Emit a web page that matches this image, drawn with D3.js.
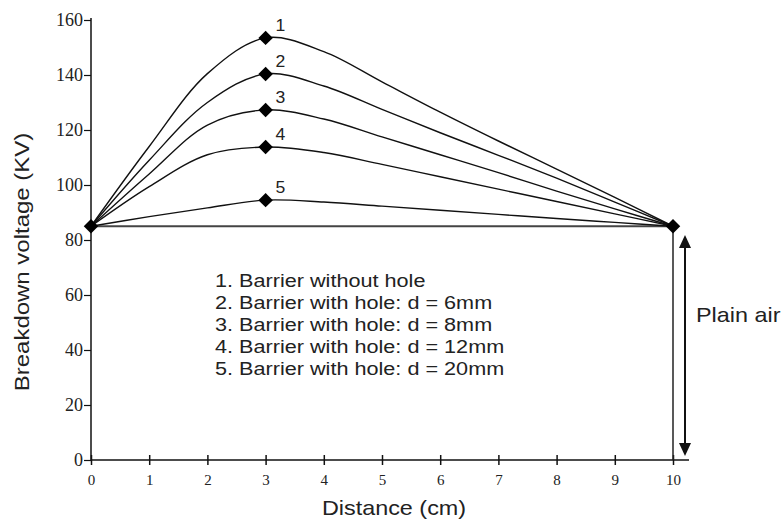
<!DOCTYPE html>
<html>
<head>
<meta charset="utf-8">
<script src="https://cdn.jsdelivr.net/npm/d3@7"></script>
<style>
  body { margin: 0; background: #fff; }
  svg { display: block; }
</style>
</head>
<body>
<div id="chart"></div>
<script>
const distances = [0, 1, 2, 3, 4, 5, 6, 7, 8, 9, 10];
// breakdown voltage (KV), one series per barrier type
const curve1 = [85, 114, 140.5, 153.5, 148.5, 137.5, 126.5, 116, 105.8, 95.5, 85];
const curve2 = [85, 109, 130, 140.4, 136, 127.5, 119, 110.8, 102.5, 93.8, 85];
const curve3 = [85, 104, 121.8, 127.3, 124, 117.5, 111, 104.5, 97.8, 91.3, 85];
const curve4 = [85, 99.4, 111, 113.8, 111.8, 107.5, 103, 98.5, 94, 89.5, 85];
const curve5 = [85, 88.5, 91.7, 94.5, 93.8, 92.3, 90.8, 89.3, 87.8, 86.4, 85];
const seriesLabels = ["1", "2", "3", "4", "5"];
const legendLines = [
    "1. Barrier without hole",
    "2. Barrier with hole: d = 6mm",
    "3. Barrier with hole: d = 8mm",
    "4. Barrier with hole: d = 12mm",
    "5. Barrier with hole: d = 20mm"
];
const xTicks = [0, 1, 2, 3, 4, 5, 6, 7, 8, 9, 10];
const yTicks = [0, 20, 40, 60, 80, 100, 120, 140, 160];
const plainAir = 85;
const peakX = 3;

const dimensions = { width: 782, height: 521 };
const series = [curve1, curve2, curve3, curve4, curve5];
const sans = "Liberation Sans, Arial, sans-serif";
const stretch = 1.17; // the source text is drawn wider than Arial

const svg = d3.select("#chart")
    .append("svg")
    .attr("width", dimensions.width)
    .attr("height", dimensions.height);

const x = d3.scaleLinear().domain([0, 10]).range([91, 673]);
const y = d3.scaleLinear().domain([0, 160]).range([460, 20]);

// axes
const xAxis = svg.append("g")
    .attr("transform", `translate(0,${y(0)})`)
    .call(d3.axisBottom(x).tickValues(xTicks).tickSize(5).tickSizeOuter(0));
xAxis.select(".domain").remove();
xAxis.selectAll(".tick line").attr("y1", -5).attr("stroke", "#111").attr("stroke-width", 1.5);
xAxis.selectAll("text")
    .attr("font-family", "Liberation Serif, serif")
    .attr("font-size", "15px")
    .attr("fill", "#222")
    .attr("dy", "1.1em");
svg.append("line")
    .attr("x1", x(0)).attr("x2", 689)
    .attr("y1", y(0)).attr("y2", y(0))
    .attr("stroke", "#111").attr("stroke-width", 1.5);

const yAxis = svg.append("g")
    .attr("transform", `translate(${x(0)},0)`)
    .call(d3.axisLeft(y).tickValues(yTicks).tickSize(7).tickSizeOuter(0));
yAxis.select(".domain").remove();
yAxis.selectAll(".tick line").attr("stroke", "#111").attr("stroke-width", 1.2);
yAxis.selectAll("text")
    .attr("font-family", "Liberation Serif, serif")
    .attr("font-size", "18px")
    .attr("fill", "#222")
    .attr("x", -8);
svg.append("line")
    .attr("x1", x(0)).attr("x2", x(0))
    .attr("y1", y(0)).attr("y2", 18)
    .attr("stroke", "#111").attr("stroke-width", 1.5);

// axis titles
svg.append("text")
    .attr("transform", `translate(29,262) rotate(-90) scale(${stretch},1)`)
    .attr("text-anchor", "middle")
    .attr("font-family", sans)
    .attr("font-size", "20.5px")
    .attr("fill", "#222")
    .text("Breakdown voltage (KV)");
svg.append("text")
    .attr("transform", `translate(394,515) scale(${stretch},1)`)
    .attr("text-anchor", "middle")
    .attr("font-family", sans)
    .attr("font-size", "20px")
    .attr("fill", "#222")
    .text("Distance (cm)");

// plain air line and vertical at 10 cm
svg.append("line")
    .attr("x1", x(0)).attr("x2", x(10))
    .attr("y1", y(plainAir)).attr("y2", y(plainAir))
    .attr("stroke", "#444").attr("stroke-width", 2.2);
svg.append("line")
    .attr("x1", x(10)).attr("x2", x(10))
    .attr("y1", y(plainAir)).attr("y2", y(0))
    .attr("stroke", "#222").attr("stroke-width", 1.5);

// curves
const line = d3.line()
    .x((d, i) => x(distances[i]))
    .y(d => y(d))
    .curve(d3.curveCatmullRom.alpha(0.5));
svg.selectAll("path.curve")
    .data(series)
    .enter()
    .append("path")
    .attr("class", "curve")
    .attr("d", line)
    .attr("fill", "none")
    .attr("stroke", "#111")
    .attr("stroke-width", 1.4);

// diamonds
const diamond = d3.symbol().type(d3.symbolSquare).size(105);
const marks = series.map(s => [peakX, s[distances.indexOf(peakX)]])
    .concat([[0, plainAir], [10, plainAir]]);
svg.selectAll("path.mark")
    .data(marks)
    .enter()
    .append("path")
    .attr("class", "mark")
    .attr("d", diamond)
    .attr("transform", d => `translate(${x(d[0])},${y(d[1])}) rotate(45)`)
    .attr("fill", "#000");

svg.selectAll("text.num")
    .data(series)
    .enter()
    .append("text")
    .attr("class", "num")
    .attr("transform", d => `translate(${x(peakX) + 10},${y(d[distances.indexOf(peakX)]) - 7}) scale(1.1,1)`)
    .attr("font-family", sans)
    .attr("font-size", "16px")
    .attr("fill", "#222")
    .text((d, i) => seriesLabels[i]);

// legend text
svg.selectAll("text.legend")
    .data(legendLines)
    .enter()
    .append("text")
    .attr("class", "legend")
    .attr("transform", (d, i) => `translate(215,${287 + 22 * i}) scale(${stretch},1)`)
    .attr("font-family", sans)
    .attr("font-size", "18.5px")
    .attr("fill", "#222")
    .text(d => d);

// plain air double arrow
const ax = 685;
svg.append("line")
    .attr("x1", ax).attr("x2", ax)
    .attr("y1", 245).attr("y2", 446)
    .attr("stroke", "#111").attr("stroke-width", 2);
svg.append("path")
    .attr("d", `M${ax},235 L${ax - 6},248 L${ax + 6},248 Z`)
    .attr("fill", "#111");
svg.append("path")
    .attr("d", `M${ax},456 L${ax - 6},443 L${ax + 6},443 Z`)
    .attr("fill", "#111");
svg.append("text")
    .attr("transform", `translate(696,322) scale(${stretch},1)`)
    .attr("font-family", sans)
    .attr("font-size", "20px")
    .attr("fill", "#222")
    .text("Plain air");
</script>
</body>
</html>
